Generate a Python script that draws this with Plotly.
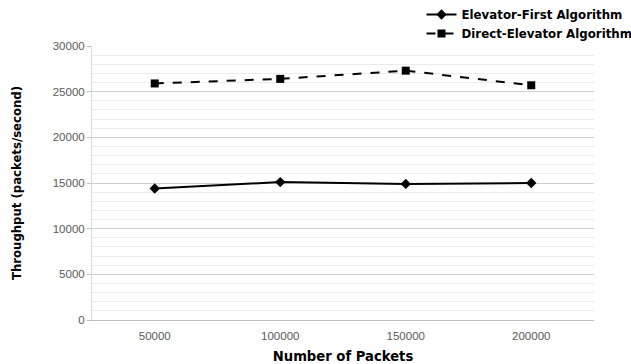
import plotly.graph_objects as go

categories = ["50000", "100000", "150000", "200000"]
elevator_first = [14400, 15100, 14900, 15000]
direct_elevator = [25900, 26400, 27300, 25700]
y_ticks = [0, 5000, 10000, 15000, 20000, 25000, 30000]
y_tick_text = ["0", "5000", "10000", "15000", "20000", "25000", "30000"]

fig = go.Figure()
fig.add_trace(go.Scatter(
    x=categories, y=elevator_first, name="Elevator-First Algorithm",
    mode="lines+markers",
    line=dict(color="black", width=2),
    marker=dict(symbol="diamond", size=8, color="black"),
))
fig.add_trace(go.Scatter(
    x=categories, y=direct_elevator, name="Direct-Elevator Algorithm",
    mode="lines+markers",
    line=dict(color="black", width=2, dash="dash"),
    marker=dict(symbol="square", size=8, color="black"),
))

bold_font = "DejaVu Sans, Liberation Sans, Arial, sans-serif"

fig.update_layout(
    width=631, height=364,
    margin=dict(l=92, r=37, t=46, b=44, autoexpand=False),
    plot_bgcolor="white", paper_bgcolor="white",
    font=dict(family="Liberation Sans, Arial, sans-serif", size=11, color="#595959"),
    legend=dict(
        xref="container", yref="container",
        x=0.668, y=1.0, xanchor="left", yanchor="top",
        font=dict(family=bold_font, size=11.8, color="black", weight="bold"),
        bgcolor="rgba(0,0,0,0)", tracegroupgap=0, itemwidth=30,
    ),
    xaxis=dict(
        type="category",
        range=[-0.5, 3.5],
        automargin=False,
        title=dict(text="Number of Packets", standoff=12,
                   font=dict(family=bold_font, size=13.2, color="black", weight="bold")),
        showline=True, linecolor="#bfbfbf", linewidth=1,
        showgrid=False, ticks="", ticklabelstandoff=5,
        tickfont=dict(size=11.5, color="#595959"),
    ),
    yaxis=dict(
        range=[0, 30000],
        automargin=False,
        tickvals=y_ticks, ticktext=y_tick_text,
        title=dict(text="Throughput (packets/second)", standoff=28,
                   font=dict(family=bold_font, size=11.7, color="black", weight="bold")),
        showline=True, linecolor="#d9d9d9", linewidth=1,
        showgrid=True, gridcolor="#cfcfcf", gridwidth=1,
        ticks="outside", ticklen=4, tickcolor="#bfbfbf",
        minor=dict(dtick=1000, showgrid=True, gridcolor="#ebebeb", gridwidth=1, ticks=""),
        zeroline=False,
        tickfont=dict(size=11.5, color="#595959"),
    ),
)

fig.write_html("out.html")
